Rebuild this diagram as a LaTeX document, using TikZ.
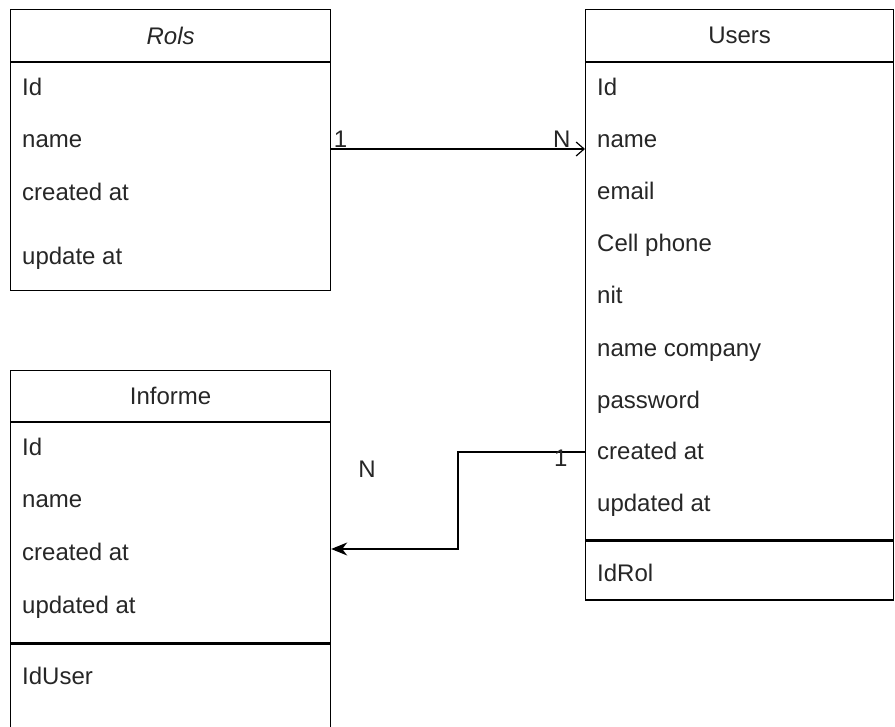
\documentclass[tikz,border=0pt]{standalone}
\usepackage{fontspec}
\setmainfont{Liberation Sans}
\usetikzlibrary{arrows.meta}
\tikzset{
  tblbox/.style={draw,line width=1.2pt,anchor=north west,inner sep=0pt,
    font=\fontsize{24}{28}\selectfont,text=black!85},
  field/.style={anchor=west,inner sep=0pt,text height=0.72em,text depth=0.21em,yshift=-5pt,
    font=\fontsize{24}{28}\selectfont,text=black!85},
  card/.style={inner sep=0pt,font=\fontsize{24}{28}\selectfont,text=black!85},
  rel/.style={line width=1.2pt},
}
\begin{document}
\begin{tikzpicture}[x=1pt,y=-1pt]
\useasboundingbox (0,0) rectangle (895,727);
% Rols
\node[tblbox,minimum width=320pt,minimum height=52pt](rols-head) at (10,9){\itshape Rols};
\node[tblbox,minimum width=320pt,minimum height=228pt](rols) at (rols-head.south west){};
\foreach \fy/\ftxt [count=\i] in {88/Id,140/name,193/created at,257/update at}{\node[field](rols-f\i) at (22,\fy){\ftxt};}
% Users
\node[tblbox,minimum width=308pt,minimum height=52pt](users-head) at (585,9){Users};
\node[tblbox,minimum width=308pt,minimum height=477pt](users) at (users-head.south west){};
\node[tblbox,minimum width=308pt,minimum height=59pt](users-key) at (users.south west){};
\foreach \fy/\ftxt [count=\i] in {88/Id,140/name,192/email,244/Cell phone,296/nit,349/name company,401/password,452/created at,504/updated at}{\node[field](users-f\i) at (597,\fy){\ftxt};}
\node[field](users-fk) at (597,574){IdRol};
% Informe
\node[tblbox,minimum width=320pt,minimum height=51pt](inf-head) at (10,370){Informe};
\node[tblbox,minimum width=320pt,minimum height=220pt](inf) at (inf-head.south west){};
\node[tblbox,minimum width=320pt,minimum height=99pt](inf-key) at (inf.south west){};
\foreach \fy/\ftxt [count=\i] in {448/Id,500/name,553/created at,606/updated at}{\node[field](inf-f\i) at (22,\fy){\ftxt};}
\node[field](inf-fk) at (22,677){IdUser};
% relations
\draw[rel,-{Straight Barb[length=8pt,width=14pt,line width=1.2pt]}](rols.east |- 0,149)--(users.west |- 0,149)
  node[card,at start,anchor=south west,xshift=2pt,yshift=1pt]{1}
  node[card,at end,anchor=south east,xshift=-14pt,yshift=1pt]{N};
\draw[rel,-{Stealth[length=16pt,width=13pt,inset=5pt]}](users.west |- 0,452)
  node[card,anchor=east,xshift=-17pt,yshift=-6pt]{1}--(458,452)|-(inf.east |- 0,549);
\node[card](inf-n) at (367,469){N};
\end{tikzpicture}
\end{document}
